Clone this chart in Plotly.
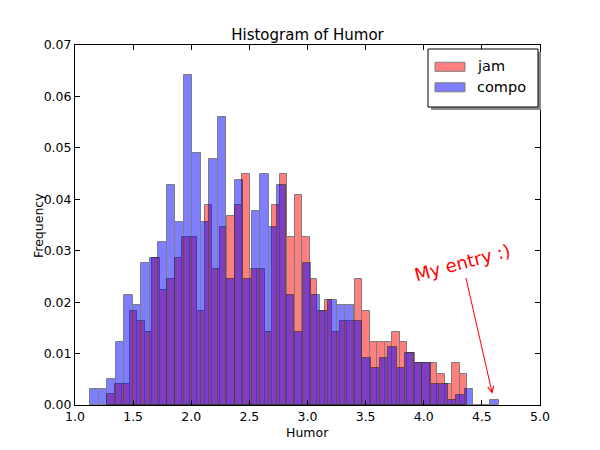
import plotly.graph_objects as go

# Histogram of Humor ratings, jam vs compo (normalised frequencies per bin)
jam_bin_start = 1.278
jam_bin_width = 0.06452
jam_freq = [
    0.0021, 0.0041, 0.0041, 0.0182, 0.0163, 0.0142, 0.0286, 0.0223,
    0.0245, 0.0286, 0.0326, 0.0326, 0.0182, 0.0388, 0.0264, 0.0346,
    0.0368, 0.0388, 0.0449, 0.0264, 0.0264, 0.0142, 0.0388, 0.0449,
    0.0326, 0.0408, 0.0326, 0.0245, 0.0182, 0.0204, 0.0142, 0.0163,
    0.0163, 0.0245, 0.0182, 0.0122, 0.0122, 0.0122, 0.0142, 0.0122,
    0.0102, 0.0081, 0.0081, 0.0081, 0.0061, 0.0041, 0.0081, 0.0061,
]

compo_bin_start = 1.129
compo_bin_width = 0.07325
compo_freq = [
    0.0031, 0.0031, 0.0051, 0.0122, 0.0214, 0.0194, 0.0276, 0.0286,
    0.0316, 0.0428, 0.0356, 0.0642, 0.0490, 0.0356, 0.0479, 0.0560,
    0.0245, 0.0438, 0.0245, 0.0377, 0.0449, 0.0346, 0.0428, 0.0214,
    0.0142, 0.0276, 0.0214, 0.0183, 0.0204, 0.0194, 0.0194, 0.0163,
    0.0092, 0.0071, 0.0092, 0.0112, 0.0071, 0.0102, 0.0082, 0.0082,
    0.0041, 0.0041, 0.0010, 0.0020, 0.0031, 0.0, 0.0, 0.0010,
]

x_ticks = [1.0, 1.5, 2.0, 2.5, 3.0, 3.5, 4.0, 4.5, 5.0]
y_ticks = [0.00, 0.01, 0.02, 0.03, 0.04, 0.05, 0.06, 0.07]

series_names = ["jam", "compo"]
series_colors = ["red", "blue"]


def _centers(start, width, n):
    return [start + width * (i + 0.5) for i in range(n)]


font = "DejaVu Sans"

fig = go.Figure()
fig.add_trace(go.Bar(
    name=series_names[0],
    x=_centers(jam_bin_start, jam_bin_width, len(jam_freq)),
    y=jam_freq,
    width=jam_bin_width,
    marker=dict(color=series_colors[0], line=dict(color="black", width=1)),
    opacity=0.5,
    showlegend=False,
))
fig.add_trace(go.Bar(
    name=series_names[1],
    x=_centers(compo_bin_start, compo_bin_width, len(compo_freq)),
    y=compo_freq,
    width=compo_bin_width,
    marker=dict(color=series_colors[1], line=dict(color="black", width=1)),
    opacity=0.5,
    showlegend=False,
))

axis_style = dict(
    showgrid=False, zeroline=False, showline=True, linecolor="black",
    linewidth=1, mirror="allticks", ticks="inside", ticklen=5,
    tickcolor="black", automargin=False,
    tickfont=dict(family=font, size=12.5, color="black"),
)

# the page body adds an 8px offset, so margins are shifted up/left by 8px
fig.update_layout(
    width=600, height=450,
    margin=dict(l=67, r=68, t=37, b=53),
    paper_bgcolor="white", plot_bgcolor="white",
    barmode="overlay", bargap=0,
    font=dict(family=font, color="black"),
    showlegend=False,
    title=dict(text="Histogram of Humor", x=0.5, xref="paper", xanchor="center",
               y=1 - 27 / 450, yref="container", yanchor="middle",
               font=dict(family=font, size=15, color="black")),
    xaxis=dict(range=[1.0, 5.0], tickvals=x_ticks, tickformat=".1f", **axis_style),
    yaxis=dict(range=[0, 0.07], tickvals=y_ticks, tickformat=".2f", **axis_style),
)

# axis titles
fig.add_annotation(x=0.5, y=-0.075, xref="paper", yref="paper", text="Humor",
                   showarrow=False, xanchor="center", yanchor="middle",
                   font=dict(family=font, size=12.5))
fig.add_annotation(x=-0.0796, y=0.5, xref="paper", yref="paper", text="Frequency",
                   showarrow=False, textangle=-90, xanchor="center", yanchor="middle",
                   font=dict(family=font, size=12.5))


# hand-made legend in the matplotlib style (wide patches, framed box with drop shadow)
def px_x(p):
    return (p - 75) / 465


def px_y(p):
    return (405 - p) / 360


fig.add_shape(type="rect", xref="paper", yref="paper",
              x0=px_x(431), x1=px_x(541), y0=px_y(110), y1=px_y(52),
              fillcolor="#8a8a8a", line=dict(width=0), layer="above")
fig.add_shape(type="rect", xref="paper", yref="paper",
              x0=px_x(428), x1=px_x(538), y0=px_y(107), y1=px_y(49),
              fillcolor="white", line=dict(color="black", width=1), layer="above")
for i, (name, color) in enumerate(zip(series_names, series_colors)):
    top = 62.3 + i * 20.5
    fig.add_shape(type="rect", xref="paper", yref="paper",
                  x0=px_x(435), x1=px_x(465), y0=px_y(top + 9), y1=px_y(top),
                  fillcolor=color, opacity=0.5,
                  line=dict(color="black", width=1), layer="above")
    fig.add_annotation(x=px_x(475), y=px_y(top + 4), xref="paper", yref="paper",
                       text=name, showarrow=False, xanchor="left", yanchor="middle",
                       font=dict(family=font, size=14.5, color="black"))

# annotation pointing at my entry
fig.add_annotation(x=4.333, y=0.0278, xref="x", yref="y", text="My entry :)",
                   showarrow=False, textangle=-15, xanchor="center", yanchor="middle",
                   font=dict(family=font, size=18, color="red"))
fig.add_annotation(x=4.59, y=0.0022, ax=4.36, ay=0.0250, xref="x", yref="y",
                   axref="x", ayref="y", text="", showarrow=True,
                   arrowhead=5, arrowsize=1.2, arrowwidth=1, arrowcolor="red")

fig.write_html("out.html")
